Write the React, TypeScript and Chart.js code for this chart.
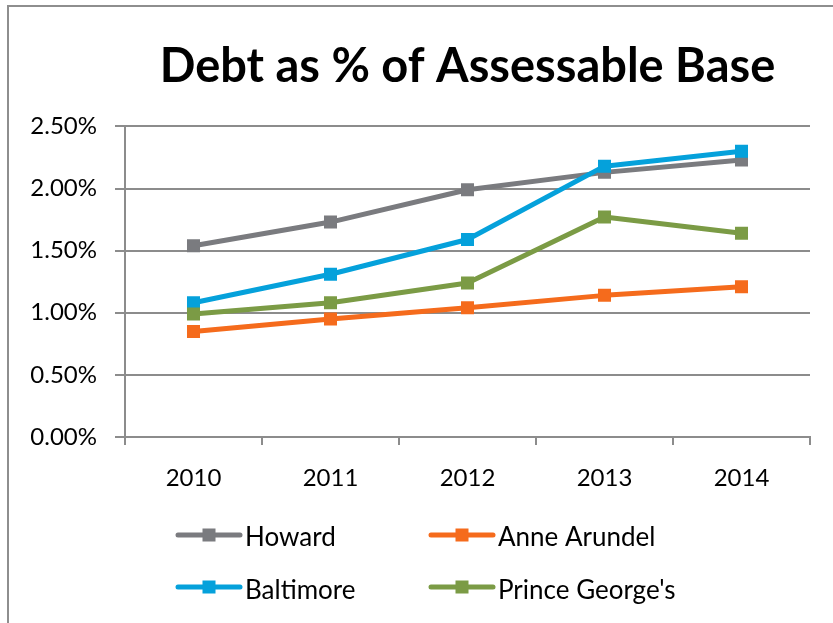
import React, { useEffect, useRef } from "react";
import { Chart, registerables } from "chart.js";

Chart.register(...registerables);

const years = ["2010", "2011", "2012", "2013", "2014"];
const howard = [1.54, 1.73, 1.99, 2.13, 2.23];
const anneArundel = [0.85, 0.95, 1.04, 1.14, 1.21];
const baltimore = [1.08, 1.31, 1.59, 2.18, 2.3];
const princeGeorges = [0.99, 1.08, 1.24, 1.77, 1.64];
const seriesNames = ["Howard", "Anne Arundel", "Baltimore", "Prince George's"];
const seriesColors = ["#7A7B7F", "#F56B1C", "#05A1DB", "#7B9B45"];
const seriesValues = [howard, anneArundel, baltimore, princeGeorges];
const drawOrder = [3, 2, 1, 0];
const yMin = 0;
const yMax = 2.5;
const yStep = 0.5;
const titleText = "Debt as % of Assessable Base";

const FONT = "Lato";
const GRID = "#8C8C8C";

const framePlugin = {
  id: "frame",
  beforeDraw(chart: any) {
    const ctx = chart.ctx;
    ctx.save();
    ctx.fillStyle = "#ffffff";
    ctx.fillRect(0, 0, chart.width, chart.height);
    ctx.strokeStyle = "#8E8E8E";
    ctx.lineWidth = 2;
    ctx.strokeRect(8, 6, chart.width + 50, chart.height + 50);
    ctx.restore();
  },
};

const gridLegendPlugin = {
  id: "gridLegend",
  afterDraw(chart: any) {
    const ctx = chart.ctx;
    const colX = [178, 431];
    const lineY = [535, 587];
    const textY = [538, 591];
    const lineLen = 62;
    ctx.save();
    chart.data.datasets.forEach((ds: any, i: number) => {
      const col = i % 2;
      const row = Math.floor(i / 2);
      const x = colX[col];
      const y = lineY[row];
      ctx.strokeStyle = ds.borderColor;
      ctx.lineWidth = 5;
      ctx.lineCap = "round";
      ctx.beginPath();
      ctx.moveTo(x, y);
      ctx.lineTo(x + lineLen, y);
      ctx.stroke();
      ctx.fillStyle = ds.borderColor;
      ctx.fillRect(x + lineLen / 2 - 6.5, y - 6.5, 13, 13);
      ctx.fillStyle = "#000000";
      ctx.font = `26px ${FONT}`;
      ctx.textBaseline = "middle";
      ctx.textAlign = "left";
      ctx.fillText(ds.label, x + lineLen + 5, textY[row]);
    });
    ctx.restore();
  },
};

export default function App() {
  const canvasRef = useRef<HTMLCanvasElement | null>(null);

  useEffect(() => {
    document.body.style.margin = "0";
    const canvas = canvasRef.current;
    if (!canvas) return;
    const chart = new Chart(canvas, {
      type: "line",
      data: {
        labels: years,
        datasets: seriesNames.map((name, i) => ({
          label: name,
          data: seriesValues[i],
          borderColor: seriesColors[i],
          backgroundColor: seriesColors[i],
          pointBackgroundColor: seriesColors[i],
          borderWidth: 5,
          pointStyle: "rect",
          pointRadius: 9.2,
          pointBorderWidth: 0,
          tension: 0,
          borderJoinStyle: "round",
          order: drawOrder[i],
        })),
      },
      options: {
        responsive: true,
        maintainAspectRatio: false,
        animation: false,
        layout: { padding: { left: 31, right: 23, top: 0, bottom: 126 } },
        plugins: {
          legend: { display: false },
          tooltip: { enabled: false },
          title: {
            display: true,
            text: titleText,
            fullSize: false,
            color: "#000000",
            font: { family: FONT, size: 47, weight: "bold" },
            padding: { top: 39, bottom: 31 },
          },
        },
        scales: {
          x: {
            type: "category",
            offset: true,
            grid: {
              offset: true,
              drawOnChartArea: false,
              drawTicks: true,
              tickLength: 8,
              color: GRID,
              lineWidth: 2,
            },
            border: { display: true, color: GRID, width: 2 },
            ticks: {
              color: "#000000",
              font: { family: FONT, size: 24 },
              padding: 19,
              maxRotation: 0,
            },
            afterFit: (s: any) => {
              s.height = 60;
            },
          },
          y: {
            min: yMin,
            max: yMax,
            grid: { color: GRID, lineWidth: 2, tickLength: 10, drawTicks: true },
            border: { display: true, color: GRID, width: 2 },
            ticks: {
              stepSize: yStep,
              color: "#000000",
              font: { family: FONT, size: 24 },
              padding: 18,
              callback: (v: any) => Number(v).toFixed(2) + "%",
            },
            afterFit: (s: any) => {
              s.width = 94;
            },
          },
        },
      },
      plugins: [framePlugin, gridLegendPlugin],
    } as any);
    return () => chart.destroy();
  }, []);

  return (
    <div style={{ width: 833, height: 623, position: "relative" }}>
      <canvas ref={canvasRef} />
    </div>
  );
}
